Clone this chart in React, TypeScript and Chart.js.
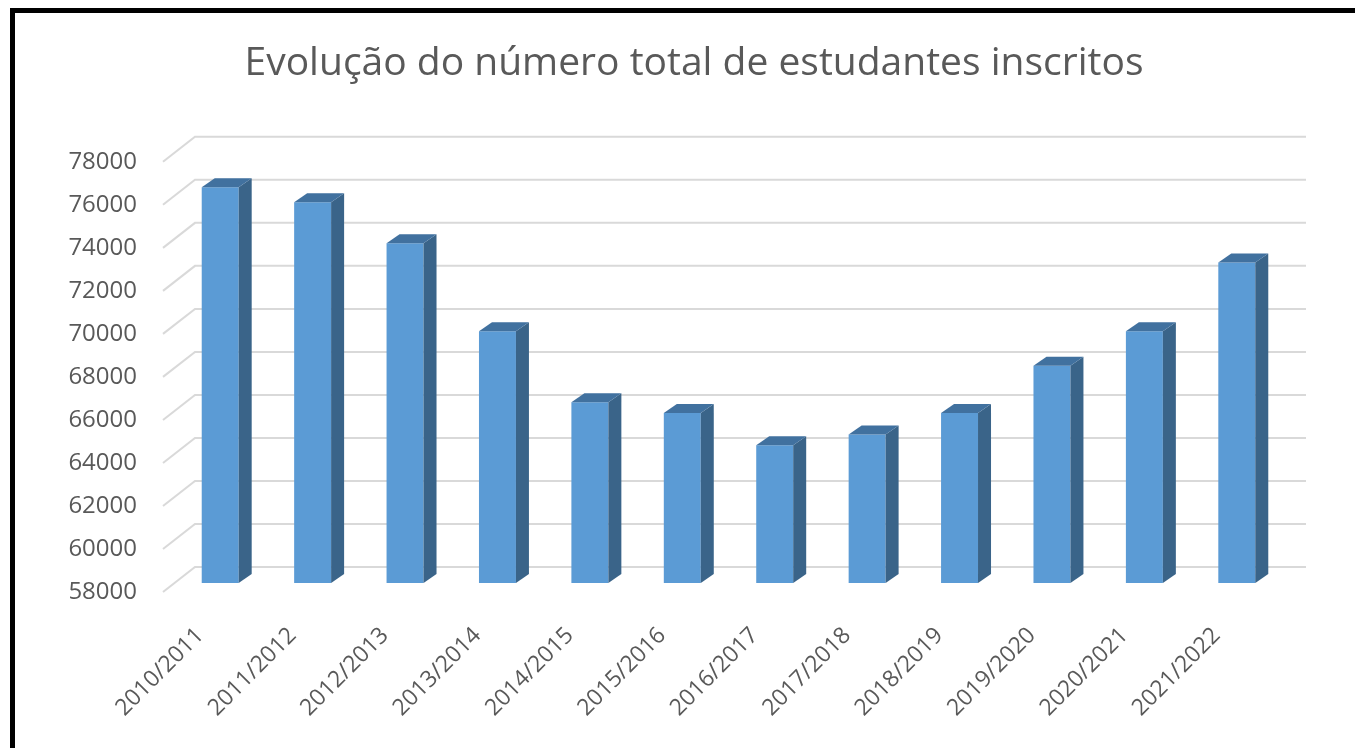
import React, { useEffect, useRef } from 'react';
import { Chart, registerables } from 'chart.js';

Chart.register(...registerables);

const categories = [
  '2010/2011', '2011/2012', '2012/2013', '2013/2014', '2014/2015', '2015/2016',
  '2016/2017', '2017/2018', '2018/2019', '2019/2020', '2020/2021', '2021/2022',
];
const enrolled = [76400, 75700, 73800, 69700, 66400, 65900, 64400, 64900, 65900, 68100, 69700, 72900];
const yMin = 58000;
const yMax = 78000;
const yStep = 2000;
const titleText = 'Evolução do número total de estudantes inscritos';

const FONT = "'Open Sans', 'DejaVu Sans', sans-serif";
const FRONT = '#5B9BD5';
const SIDE = '#3A6489';
const TOP = '#41719F';
const GRID = '#D9D9D9';
const TEXT = '#595959';

// depth offsets
const BACK_DX = 21;
const BACK_DY = -16;
const FRONT_DX = -11;
const FRONT_DY = 9;
const BAR_DX = 13;
const BAR_DY = -9;

const framePlugin = {
  id: 'frame',
  beforeDraw(chart: any) {
    const { ctx, width, height } = chart;
    ctx.save();
    ctx.fillStyle = '#ffffff';
    ctx.fillRect(0, 0, width, height);
    ctx.fillStyle = '#000000';
    ctx.fillRect(10, 8, width - 10, 5);
    ctx.fillRect(10, 8, 5, height - 8);
    ctx.restore();
  },
};

const wallGridPlugin = {
  id: 'wallGrid',
  beforeDatasetsDraw(chart: any) {
    const { ctx, chartArea } = chart;
    const ys = chart.scales.y;
    ctx.save();
    ctx.strokeStyle = GRID;
    ctx.lineWidth = 2;
    ys.ticks.forEach((t: any) => {
      const py = ys.getPixelForValue(t.value);
      ctx.beginPath();
      ctx.moveTo(chartArea.left + FRONT_DX, py + FRONT_DY);
      ctx.lineTo(chartArea.left + BACK_DX, py + BACK_DY);
      ctx.lineTo(chartArea.right + BACK_DX + 2, py + BACK_DY);
      ctx.stroke();
    });
    ctx.restore();
  },
};

const bar3dPlugin = {
  id: 'bar3d',
  afterDatasetsDraw(chart: any) {
    const { ctx, chartArea } = chart;
    const meta = chart.getDatasetMeta(0);
    ctx.save();
    meta.data.forEach((el: any) => {
      const props = el.getProps(['x', 'y', 'base', 'width'], true);
      const { x, y, width } = props;
      const base = Math.min(props.base, chartArea.bottom);
      const l = x - width / 2;
      const r = x + width / 2;
      ctx.fillStyle = SIDE;
      ctx.beginPath();
      ctx.moveTo(r, y);
      ctx.lineTo(r + BAR_DX, y + BAR_DY);
      ctx.lineTo(r + BAR_DX, base + BAR_DY);
      ctx.lineTo(r, base);
      ctx.closePath();
      ctx.fill();
      ctx.fillStyle = TOP;
      ctx.beginPath();
      ctx.moveTo(l, y);
      ctx.lineTo(l + BAR_DX, y + BAR_DY);
      ctx.lineTo(r + BAR_DX, y + BAR_DY);
      ctx.lineTo(r, y);
      ctx.closePath();
      ctx.fill();
    });
    ctx.restore();
  },
};

export default function App() {
  const ref = useRef<HTMLCanvasElement | null>(null);

  useEffect(() => {
    if (!ref.current) return;
    const chart = new Chart(ref.current, {
      type: 'bar',
      data: {
        labels: categories,
        datasets: [
          {
            data: enrolled,
            backgroundColor: FRONT,
            borderWidth: 0,
            barPercentage: 0.4,
            categoryPercentage: 1,
          },
        ],
      },
      options: {
        responsive: false,
        animation: false,
        layout: { padding: { left: 33, right: 0, top: 0, bottom: 0 } },
        plugins: {
          legend: { display: false },
          tooltip: { enabled: false },
          title: {
            display: true,
            text: titleText,
            color: TEXT,
            font: { family: FONT, size: 39, weight: 'normal' },
            padding: { top: 40, bottom: 66 },
          },
        },
        scales: {
          x: {
            grid: { display: false, drawTicks: false },
            border: { display: false },
            ticks: {
              color: TEXT,
              font: { family: FONT, size: 23 },
              minRotation: 45,
              maxRotation: 45,
              labelOffset: -20,
              padding: 39,
              autoSkip: false,
            },
            afterFit(s: any) {
              s.height = 165;
            },
          },
          y: {
            min: yMin,
            max: yMax,
            grid: { display: false, drawTicks: false },
            border: { display: false },
            ticks: {
              stepSize: yStep,
              color: TEXT,
              font: { family: FONT, size: 24 },
              padding: 37,
              labelOffset: 9,
              callback: (v: any) => String(v),
            },
            afterFit(s: any) {
              s.width = 141;
            },
          },
          yRight: {
            position: 'right',
            display: true,
            grid: { display: false, drawTicks: false },
            border: { display: false },
            ticks: { display: false },
            afterFit(s: any) {
              s.width = 72;
            },
          },
        },
      },
      plugins: [framePlugin, wallGridPlugin, bar3dPlugin],
    } as any);
    return () => chart.destroy();
  }, []);

  return (
    <div style={{ position: 'absolute', left: 0, top: 0, width: 1355, height: 748, background: '#fff' }}>
      <canvas ref={ref} width={1355} height={748} style={{ display: 'block' }} />
    </div>
  );
}
